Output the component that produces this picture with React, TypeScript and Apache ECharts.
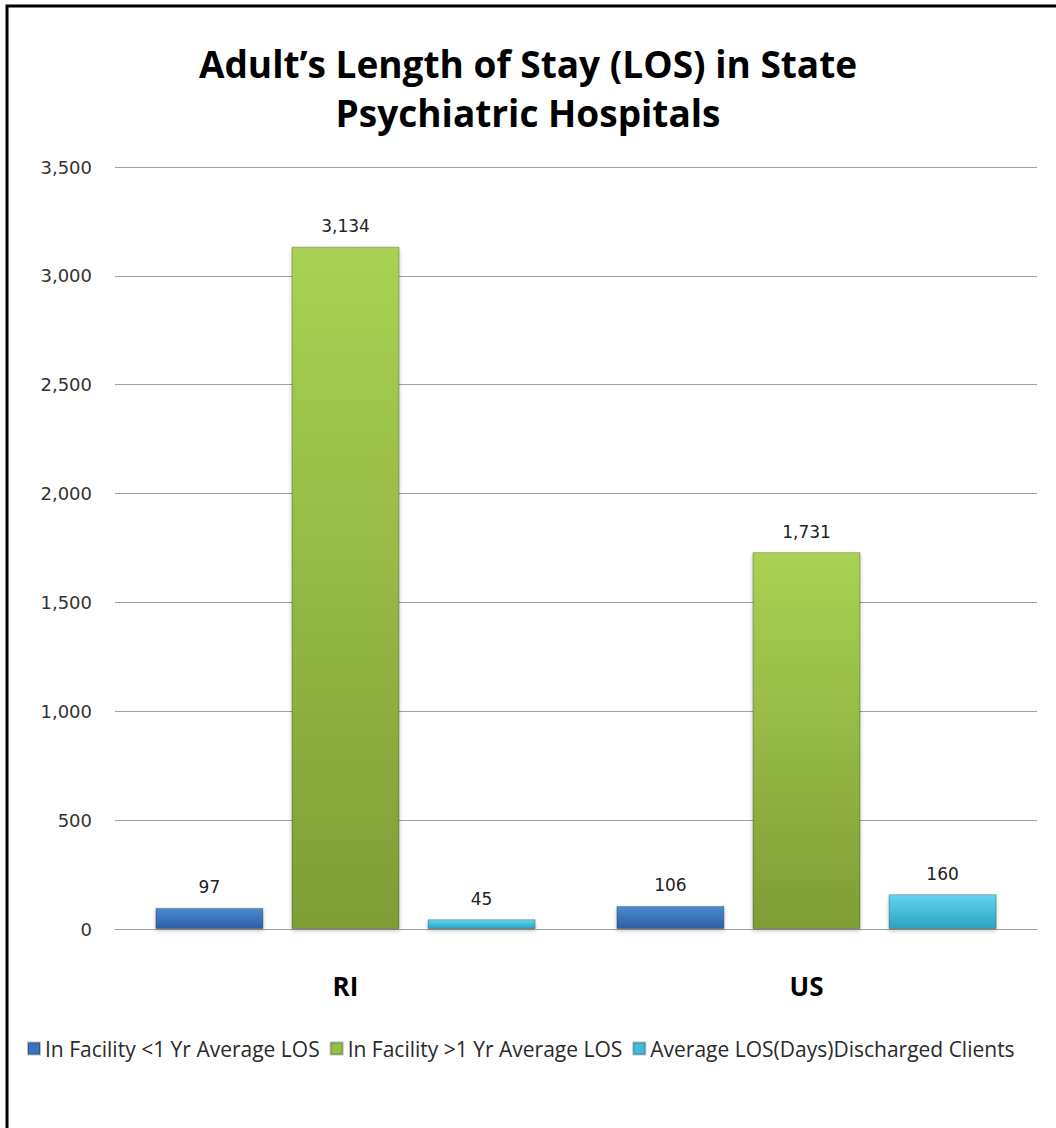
import React, { useEffect, useRef } from "react";
import * as echarts from "echarts";

const categories = ["RI", "US"];
const seriesNames = [
  "In Facility <1 Yr Average LOS",
  "In Facility >1 Yr Average LOS",
  "Average LOS(Days)Discharged Clients",
];
const lessThanOneYr = [97, 106];
const moreThanOneYr = [3134, 1731];
const dischargedAvg = [45, 160];
const yTicks = { min: 0, max: 3500, interval: 500 };

const grad = (top: string, bottom: string) =>
  new echarts.graphic.LinearGradient(0, 0, 0, 1, [
    { offset: 0, color: top },
    { offset: 1, color: bottom },
  ]);

export default function App() {
  const ref = useRef<HTMLDivElement>(null);
  useEffect(() => {
    if (!ref.current) return;
    const chart = echarts.init(ref.current, undefined, { renderer: "svg" });
    const fmt = (v: number) => v.toLocaleString("en-US");
    const labelCfg = {
      show: true,
      position: "top" as const,
      distance: 12,
      fontFamily: "DejaVu Sans",
      fontSize: 17,
      color: "#222",
      formatter: (p: any) => fmt(p.value),
    };
    const colors = [
      grad("#4d8ad2", "#2c5fa3"),
      grad("#a9d253", "#7e9e36"),
      grad("#62d6f0", "#2aa2c0"),
    ];
    const legendColors = ["#3d74bd", "#95bf43", "#3fbcd9"];
    const data = [lessThanOneYr, moreThanOneYr, dischargedAvg];
    chart.setOption({
      animation: false,
      backgroundColor: "#fff",
      title: {
        text: "Adult’s Length of Stay (LOS) in State\nPsychiatric Hospitals",
        left: "center",
        top: 34,
        textStyle: {
          fontFamily: "Open Sans",
          fontWeight: "bold",
          fontSize: 37,
          lineHeight: 49,
          color: "#000",
        },
      },
      graphic: [
        {
          type: "rect",
          shape: { x: 7, y: 6, width: 1200, height: 1300 },
          style: { fill: "none", stroke: "#000", lineWidth: 3 },
          silent: true,
        },
      ],
      legend: {
        left: 22,
        top: 1033,
        itemWidth: 12,
        itemHeight: 12,
        itemGap: 10,
        icon: "rect",
        textStyle: { fontFamily: "Open Sans", fontSize: 21, color: "#2a2a2a" },
        data: seriesNames.map((n, i) => ({
          name: n,
          itemStyle: { color: legendColors[i] },
        })),
      },
      grid: { left: 115, right: 19, top: 167, bottom: 199 },
      xAxis: {
        type: "category",
        data: categories,
        axisLine: { lineStyle: { color: "#a0a0a0" } },
        axisTick: { show: false },
        axisLabel: {
          margin: 44,
          fontFamily: "Open Sans",
          fontWeight: "bold",
          fontSize: 26,
          color: "#000",
        },
      },
      yAxis: {
        type: "value",
        min: yTicks.min,
        max: yTicks.max,
        interval: yTicks.interval,
        axisLine: { show: false },
        axisTick: { show: false },
        splitLine: { lineStyle: { color: "#a0a0a0" } },
        axisLabel: {
          margin: 23,
          fontFamily: "DejaVu Sans",
          fontSize: 18,
          color: "#333",
          formatter: (v: number) => fmt(v),
        },
      },
      series: seriesNames.map((n, i) => ({
        name: n,
        type: "bar",
        data: data[i],
        barWidth: 108,
        barGap: "26%",
        itemStyle: {
          color: colors[i],
          borderColor: "rgba(0,0,0,0.25)",
          borderWidth: 1,
          shadowColor: "rgba(0,0,0,0.25)",
          shadowBlur: 4,
          shadowOffsetY: 2,
        },
        label: labelCfg,
      })),
    });
    return () => chart.dispose();
  }, []);
  return (
    <div
      ref={ref}
      style={{ position: "absolute", left: 0, top: 0, width: 1056, height: 1128 }}
    />
  );
}
